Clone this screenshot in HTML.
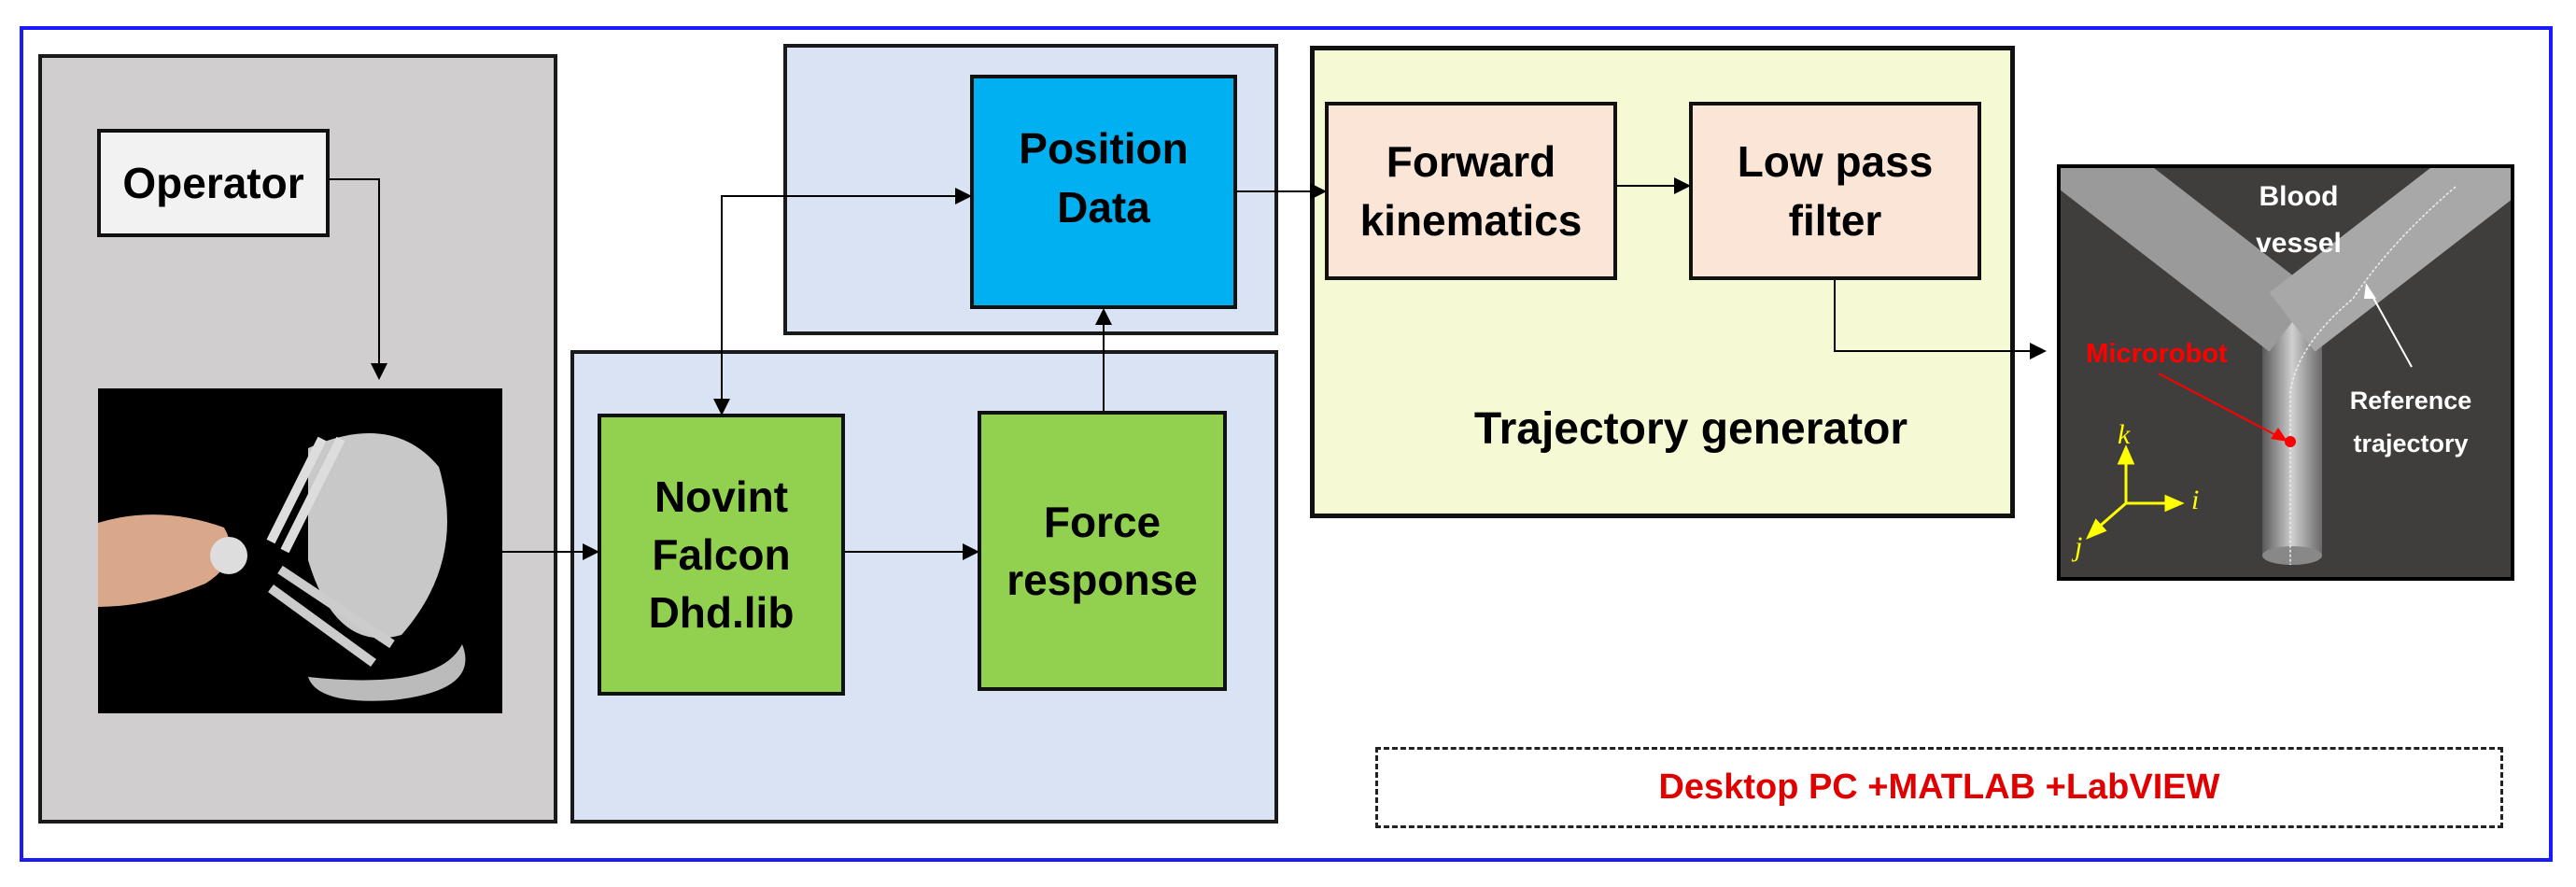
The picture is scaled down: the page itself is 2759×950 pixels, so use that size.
<!DOCTYPE html>
<html><head><meta charset="utf-8"><style>
html,body{margin:0;padding:0;background:#fff;}
body{width:2759px;height:950px;position:relative;overflow:hidden;font-family:"Liberation Sans",sans-serif;}
.b{position:absolute;box-sizing:border-box;}
.t{position:absolute;display:flex;align-items:center;justify-content:center;text-align:center;font-weight:bold;color:#000;font-size:46px;line-height:1.35;box-sizing:border-box;}
</style></head><body>
<div class="b" style="left:21px;top:28px;width:2713px;height:895px;border:4px solid #1a1aff;"></div>
<div class="b" style="left:41px;top:58px;width:556px;height:824px;background:#d0cece;border:4px solid #1a1a1a;"></div>
<div class="b" style="left:611px;top:375px;width:758px;height:507px;background:#dae3f3;border:4px solid #1a1a1a;"></div>
<div class="b" style="left:839px;top:47px;width:530px;height:312px;background:#dae3f3;border:4px solid #1a1a1a;"></div>
<div class="b" style="left:1403px;top:49px;width:755px;height:506px;background:#f6fad4;border:5px solid #111;"></div>
<div class="t" style="left:104px;top:138px;width:249px;height:116px;background:#f2f2f2;border:4px solid #111;">Operator</div>
<div class="t" style="left:1039px;top:80px;width:286px;height:251px;background:#00b0f0;border:4px solid #111;padding-bottom:30px;">Position<br>Data</div>
<div class="t" style="left:640px;top:443px;width:265px;height:302px;background:#92d050;border:4px solid #111;">Novint<br>Falcon<br>Dhd.lib</div>
<div class="t" style="left:1047px;top:440px;width:267px;height:300px;background:#92d050;border:4px solid #111;">Force<br>response</div>
<div class="t" style="left:1419px;top:109px;width:313px;height:191px;background:#fbe5d6;border:4px solid #111;">Forward<br>kinematics</div>
<div class="t" style="left:1809px;top:109px;width:313px;height:191px;background:#fbe5d6;border:4px solid #111;">Low pass<br>filter</div>
<div class="t" style="left:1403px;top:430px;width:816px;height:60px;font-size:48px;">Trajectory generator</div>
<div class="b" style="left:1473px;top:800px;width:1208px;height:87px;border:3px dashed #222;"></div>
<div class="t" style="left:1473px;top:800px;width:1208px;height:87px;color:#e00000;font-size:38px;">Desktop PC +MATLAB +LabVIEW</div>

<svg width="2759" height="950" style="position:absolute;left:0;top:0">
<defs>
<marker id="a2" markerWidth="18" markerHeight="18" refX="16" refY="9" orient="auto" markerUnits="userSpaceOnUse"><path d="M0,0L18,9L0,18z" fill="#000"/></marker>
<linearGradient id="tg" gradientUnits="userSpaceOnUse" x1="2422" y1="0" x2="2488" y2="0"><stop offset="0" stop-color="#555"/><stop offset=".5" stop-color="#cfcfcf"/><stop offset="1" stop-color="#666"/></linearGradient>
<clipPath id="vc"><rect x="2207" y="180" width="482" height="438"/></clipPath>
</defs>
<g stroke="#000" stroke-width="2" fill="none">
<polyline points="353,192 406,192 406,405" marker-end="url(#a2)"/>
<line x1="538" y1="591" x2="640" y2="591" marker-end="url(#a2)"/>
<line x1="905" y1="591" x2="1047" y2="591" marker-end="url(#a2)"/>
<line x1="1182" y1="440" x2="1182" y2="332" marker-end="url(#a2)"/>
<polyline points="1039,210 773,210 773,443" marker-end="url(#a2)"/>
<line x1="773" y1="210" x2="1039" y2="210" marker-end="url(#a2)"/>
<line x1="1325" y1="205" x2="1419" y2="205" marker-end="url(#a2)"/>
<line x1="1732" y1="199" x2="1809" y2="199" marker-end="url(#a2)"/>
<polyline points="1965,300 1965,376 2190,376" marker-end="url(#a2)"/>
</g>
<rect x="105" y="416" width="433" height="348" fill="#000"/>
<path d="M330,480 Q420,440 470,500 Q500,600 430,680 Q360,700 330,600z" fill="#c8c8c8"/>
<path d="M345,470 L290,580 M365,470 L305,590" stroke="#ddd" stroke-width="10"/>
<path d="M300,610 L420,690 M290,630 L400,710" stroke="#ccc" stroke-width="10"/>
<path d="M330,725 Q470,740 495,690 Q515,740 420,750 Q340,755 330,725z" fill="#bbb"/>
<path d="M105,560 Q170,540 240,565 Q260,600 220,625 Q160,650 105,650z" fill="#d9a88a"/>
<circle cx="245" cy="595" r="20" fill="#ddd"/>
<rect x="2205" y="178" width="486" height="442" fill="#403e3c" stroke="#000" stroke-width="4"/>
<g clip-path="url(#vc)">
<line x1="2455" y1="330" x2="2455" y2="595" stroke="url(#tg)" stroke-width="64"/>
<ellipse cx="2455" cy="595" rx="32" ry="10" fill="#888"/>
<line x1="2190" y1="140" x2="2455" y2="345" stroke="#9a9a9a" stroke-width="80"/>
<line x1="2720" y1="140" x2="2455" y2="345" stroke="#a8a8a8" stroke-width="80"/>
</g>
<path d="M2630,200 Q2560,260 2520,320 Q2460,370 2453,420 L2453,605" stroke="#eee" stroke-width="1.5" fill="none" stroke-dasharray="3,2"/>
<g font-weight="bold" font-size="30" fill="#fff" text-anchor="middle">
<text x="2462" y="220">Blood</text><text x="2462" y="270">vessel</text>
<text x="2582" y="438" font-size="27">Reference</text><text x="2582" y="484" font-size="27">trajectory</text>
</g>
<text x="2310" y="388" font-weight="bold" font-size="29" fill="#f00" text-anchor="middle">Microrobot</text>
<line x1="2312" y1="400" x2="2445" y2="470" stroke="#f00" stroke-width="2"/>
<path d="M2450,473 L2432,470 L2440,458z" fill="#f00"/>
<circle cx="2453" cy="473" r="6" fill="#f00"/>
<line x1="2583" y1="393" x2="2537" y2="310" stroke="#fff" stroke-width="2"/>
<path d="M2534,303 L2545,320 L2532,320z" fill="#fff"/>
<g stroke="#ff0" stroke-width="3" fill="#ff0">
<line x1="2277" y1="539" x2="2277" y2="490"/><path d="M2277,480 L2270,496 L2284,496z"/>
<line x1="2277" y1="539" x2="2325" y2="539"/><path d="M2336,539 L2320,532 L2320,546z"/>
<line x1="2277" y1="539" x2="2246" y2="566"/><path d="M2237,575 L2245,558 L2254,568z"/>
</g>
<g fill="#ff0" font-family="Liberation Serif" font-style="italic" font-size="30">
<text x="2268" y="475">k</text><text x="2347" y="545">i</text><text x="2222" y="595">j</text>
</g>
</svg>
</body></html>
